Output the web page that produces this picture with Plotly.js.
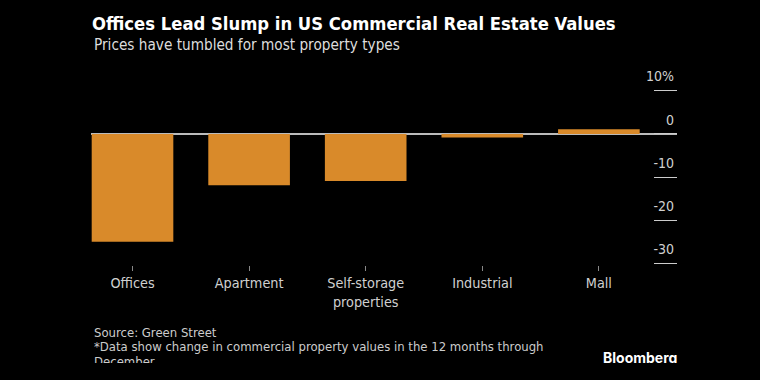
<!DOCTYPE html>
<html>
<head>
<meta charset="utf-8">
<script src="https://cdn.plot.ly/plotly-3.0.1.min.js"></script>
<style>
html,body{margin:0;padding:0;background:#000;}
#clip{width:760px;height:363px;overflow:hidden;background:#000;}
#chart{width:760px;height:380px;}
</style>
</head>
<body>
<div id="clip"><div id="chart"></div></div>
<script>
const categories = ["Offices", "Apartment", "Self-storage<br>properties", "Industrial", "Mall"];
const changePct = [-25.0, -11.9, -10.9, -0.8, 1.1];
const yTickVals = [-30, -20, -10, 0, 10];
const yTickText = ["-30", "-20", "-10", "0", "10%"];

const FONT = "DejaVu Sans Condensed, DejaVu Sans, sans-serif";
const PH = 205; // plot height in px (for paper-relative text placement)
const py = (px) => (265 - px) / PH;

const trace = {
  type: "bar",
  x: categories,
  y: changePct,
  marker: {color: "#d98a2a"},
  width: 0.7,
  hoverinfo: "skip"
};

const layout = {
  width: 760, height: 380,
  paper_bgcolor: "#000", plot_bgcolor: "#000",
  margin: {l: 91, r: 83, t: 60, b: 115},
  showlegend: false,
  font: {family: FONT, color: "#cccccc", size: 14},
  title: {
    text: "<b>Offices Lead Slump in US Commercial Real Estate Values</b>",
    xref: "container", x: 92/760, xanchor: "left",
    yref: "container", y: 1 - 24/380, yanchor: "middle",
    font: {family: FONT, size: 18.3, color: "#ffffff"}
  },
  xaxis: {
    type: "category",
    range: [-0.356, 4.67],
    ticks: "outside", ticklen: 5, tickwidth: 1, tickcolor: "#888888",
    showgrid: false, zeroline: false, showline: false,
    tickfont: {family: FONT, size: 14.3, color: "#d0d0d0"},
    fixedrange: true
  },
  yaxis: {
    side: "right",
    range: [-30.4, 17.16],
    tickvals: yTickVals, ticktext: yTickText,
    ticks: "inside", ticklen: 23, tickwidth: 1, tickcolor: "#cccccc",
    ticklabelposition: "inside top",
    ticklabelshift: -4,
    showgrid: false, showline: false,
    zeroline: true, zerolinecolor: "#bbbbbb", zerolinewidth: 1.5,
    tickfont: {family: FONT, size: 14, color: "#d0d0d0"},
    fixedrange: true
  },
  annotations: [
    {text: "Prices have tumbled for most property types", xref: "paper", yref: "paper",
     x: 0.0017, y: py(45), xanchor: "left", yanchor: "middle", showarrow: false,
     font: {family: FONT, size: 15.2, color: "#dddddd"}},
    {text: "Source: Green Street", xref: "paper", yref: "paper",
     x: 0.0017, y: py(332), xanchor: "left", yanchor: "middle", showarrow: false,
     font: {family: FONT, size: 13, color: "#cccccc"}},
    {text: "*Data show change in commercial property values in the 12 months through", xref: "paper", yref: "paper",
     x: 0.0017, y: py(346.5), xanchor: "left", yanchor: "middle", showarrow: false,
     font: {family: FONT, size: 13, color: "#cccccc"}},
    {text: "December", xref: "paper", yref: "paper",
     x: 0.0017, y: py(361), xanchor: "left", yanchor: "middle", showarrow: false,
     font: {family: FONT, size: 13, color: "#cccccc"}},
    {text: "<b>Bloomberg</b>", xref: "paper", yref: "paper",
     x: (679-91)/586, y: py(357.5), xanchor: "right", yanchor: "middle", showarrow: false,
     font: {family: "Inter, DejaVu Sans, sans-serif", size: 14, color: "#ffffff"}}
  ]
};

Plotly.newPlot("chart", [trace], layout, {displayModeBar: false, staticPlot: true});
</script>
</body>
</html>
